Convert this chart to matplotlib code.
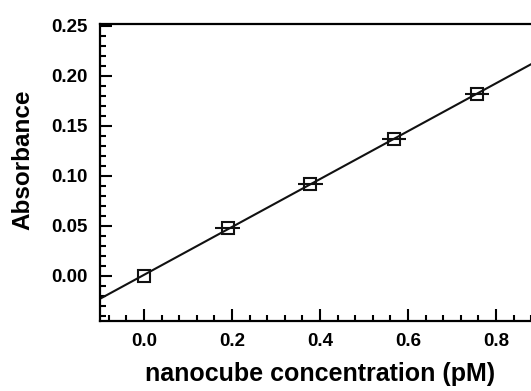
import numpy as np
import matplotlib.pyplot as plt
from matplotlib.ticker import MultipleLocator

# data
conc = [0.0, 0.19, 0.378, 0.568, 0.757]       # pM
absb = [0.0, 0.048, 0.092, 0.137, 0.182]
conc_err = [0.0, 0.028, 0.028, 0.028, 0.028]

# linear fit through the points
slope, icpt = np.polyfit(conc, absb, 1)
xfit = np.array([-0.1, 0.9])

plt.rcParams['font.family'] = ['Liberation Sans', 'DejaVu Sans']
plt.rcParams['font.weight'] = 'bold'

fig = plt.figure(figsize=(5.31, 3.91), dpi=100)
ax = fig.add_axes([100/531, 70/391, 440/531, 297/391])

ax.plot(xfit, slope*xfit + icpt, color='#111111', lw=1.5)
ax.errorbar(conc, absb, xerr=conc_err, fmt='s', ms=8.5, mfc='none',
            mec='#111111', mew=1.5, ecolor='#111111', elinewidth=1.5, capsize=0)

ax.set_xlim(-0.1, 0.9)
ax.set_ylim(-0.045, 0.252)
ax.xaxis.set_major_locator(MultipleLocator(0.2))
ax.xaxis.set_minor_locator(MultipleLocator(0.04))
ax.yaxis.set_major_locator(MultipleLocator(0.05))
ax.yaxis.set_minor_locator(MultipleLocator(0.01))
ax.xaxis.set_major_formatter(plt.FormatStrFormatter('%.1f'))
ax.yaxis.set_major_formatter(plt.FormatStrFormatter('%.2f'))

ax.tick_params(which='major', direction='in', length=8.5, width=1.5, labelsize=13.5)
ax.tick_params(axis='y', pad=9)
ax.tick_params(axis='x', pad=9)
ax.tick_params(which='minor', direction='in', length=4.5, width=1.5)
ax.tick_params(top=False, right=False, which='both')
for s in ax.spines.values():
    s.set_linewidth(1.6)

ax.set_xlabel('nanocube concentration (pM)', fontsize=18, fontweight='bold', labelpad=8)
ax.set_ylabel('Absorbance', fontsize=17.5, fontweight='bold')
ax.yaxis.set_label_coords(-0.148, 0.542)

fig.savefig('out.png', dpi=100)
